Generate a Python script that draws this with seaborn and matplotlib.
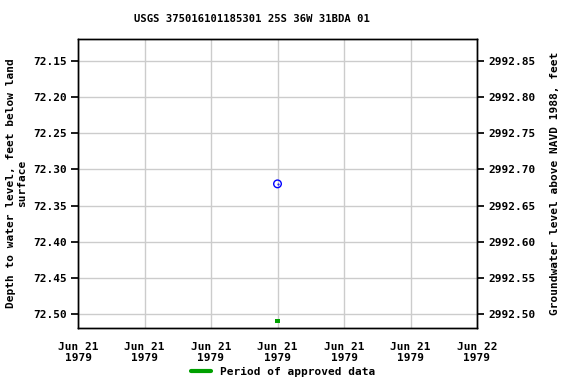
import pandas as pd
import numpy as np
import matplotlib
matplotlib.use('Agg')
import matplotlib.pyplot as plt
from matplotlib.lines import Line2D
import seaborn as sns

# donnees
dates = pd.to_datetime(['1979-06-21 12:00'])
depth = [72.32]
approved_dates = pd.to_datetime(['1979-06-21 12:00'])
approved_level = [72.51]
land_surface = 3065.00  # profondeur + altitude

tick_dates = pd.date_range('1979-06-21 00:00', '1979-06-22 00:00', freq='4h')
tick_labels = ['Jun 21\n1979'] * 6 + ['Jun 22\n1979']

sns.set_theme(style='whitegrid')
plt.rcParams['font.family'] = ['DejaVu Sans Mono']
plt.rcParams['font.weight'] = 'bold'
plt.rcParams['text.color'] = 'black'
plt.rcParams['axes.labelcolor'] = 'black'
plt.rcParams['xtick.color'] = 'black'
plt.rcParams['ytick.color'] = 'black'

df = pd.DataFrame({'date': dates, 'depth': depth})
df_ok = pd.DataFrame({'date': approved_dates, 'level': approved_level})

fig = plt.figure(figsize=(5.76, 3.84), dpi=100)
ax = fig.add_axes([78/576, 1-328/384, (477-78)/576, (328-39)/384])

sns.scatterplot(data=df, x='date', y='depth', ax=ax, marker='o', s=30,
                facecolor='none', edgecolor='blue', linewidth=1, zorder=3)
ax.plot(df['date'], df['depth'], marker='.', color='blue', markersize=1, linestyle='none', zorder=4)
sns.scatterplot(data=df_ok, x='date', y='level', ax=ax, marker='s', s=10,
                color='#00a000', edgecolor='none', zorder=3)

ax.set_xlim(tick_dates[0], tick_dates[-1])
ax.set_ylim(72.5194, 72.1196)
ax.set_yticks(np.arange(72.15, 72.501, 0.05))
ax.yaxis.set_major_formatter(plt.FormatStrFormatter('%.2f'))
ax.set_xticks(tick_dates)
ax.set_xticklabels(tick_labels)

ax.grid(True, color='#cccccc', linewidth=1)
ax.tick_params(axis='both', which='both', direction='out', length=5, color='black',
               labelsize=8, bottom=False, left=True, pad=3)
ax.tick_params(axis='x', pad=5)
ax.set_xlabel('')
ax.set_ylabel('Depth to water level, feet below land\nsurface', fontsize=8, fontweight='bold')

ax2 = ax.twinx()
lo, hi = ax.get_ylim()
ax2.set_ylim(land_surface - lo, land_surface - hi)
ax2.set_yticks(np.arange(2992.50, 2992.851, 0.05))
ax2.yaxis.set_major_formatter(plt.FormatStrFormatter('%.2f'))
ax2.grid(False)
ax2.tick_params(axis='y', direction='out', length=5, color='black', labelsize=8, right=True)
ax2.set_ylabel('Groundwater level above NAVD 1988, feet', fontsize=8, fontweight='bold', labelpad=10)

for a in (ax, ax2):
    for s in a.spines.values():
        s.set_color('black')
        s.set_linewidth(1)

fig.text(252/576, 1-19/384, 'USGS 375016101185301 25S 36W 31BDA 01', ha='center', va='center',
         fontsize=7.6, fontweight='bold')

handles = [Line2D([0], [0], color='#00a000', linewidth=3)]
fig.legend(handles, ['Period of approved data'], loc='center', bbox_to_anchor=(283/576, 1-372/384),
           frameon=False, fontsize=8, handlelength=1.8)

fig.savefig('out.png', dpi=100)
